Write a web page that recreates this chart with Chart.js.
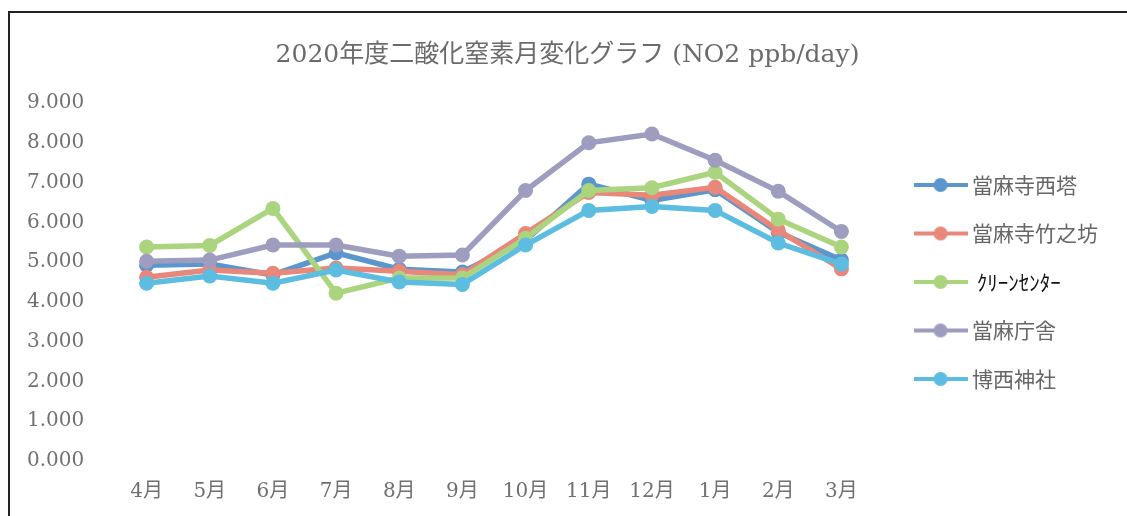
<!DOCTYPE html>
<html>
<head>
<meta charset="utf-8">
<script src="https://cdn.jsdelivr.net/npm/chart.js"></script>
<style>
  html, body { margin: 0; padding: 0; background: #fff; overflow: hidden; }
  #wrap { position: relative; width: 1127px; height: 516px; }
  #frame { position: absolute; left: 8px; top: 11px; width: 2000px; height: 1000px;
           border-left: 2px solid #222; border-top: 2px solid #222; pointer-events: none; }
</style>
</head>
<body>
<div id="wrap">
  <canvas id="lineChart"></canvas>
  <div id="frame"></div>
</div>
<script>
// months (fiscal year 2020)
const months = ['4月', '5月', '6月', '7月', '8月', '9月', '10月', '11月', '12月', '1月', '2月', '3月']
const seriesNames = ['當麻寺西塔', '當麻寺竹之坊', ' ｸﾘｰﾝｾﾝﾀｰ', '當麻庁舎', '博西神社']
const seriesColors = ['#5b97cc', '#e8877a', '#abd47e', '#9e9cbf', '#5cbde0']

// NO2 ppb/day
const saitou = [4.92, 4.95, 4.68, 5.23, 4.82, 4.75, 5.55, 6.96, 6.55, 6.82, 5.75, 5.05]
const takenobou = [4.62, 4.80, 4.72, 4.85, 4.77, 4.68, 5.72, 6.75, 6.68, 6.88, 5.80, 4.83]
const cleanCenter = [5.38, 5.42, 6.35, 4.22, 4.60, 4.60, 5.60, 6.80, 6.87, 7.26, 6.08, 5.38]
const choushya = [5.02, 5.05, 5.43, 5.43, 5.15, 5.18, 6.80, 8.00, 8.22, 7.56, 6.78, 5.77]
const hakusai = [4.47, 4.65, 4.47, 4.80, 4.50, 4.44, 5.43, 6.30, 6.40, 6.30, 5.48, 4.95]

const allSeries = [saitou, takenobou, cleanCenter, choushya, hakusai]

// small line + dot icon for the legend
function makeIcon(color) {
  const c = document.createElement('canvas')
  c.width = 54
  c.height = 16
  const g = c.getContext('2d')
  g.strokeStyle = color
  g.lineWidth = 4
  g.beginPath()
  g.moveTo(0, 8)
  g.lineTo(54, 8)
  g.stroke()
  g.fillStyle = color
  g.beginPath()
  g.arc(27, 8, 7, 0, Math.PI * 2)
  g.fill()
  return c
}
const icons = seriesColors.map(makeIcon)

const datasets = allSeries.map((values, i) => ({
  label: seriesNames[i],
  data: values,
  borderColor: seriesColors[i],
  backgroundColor: seriesColors[i],
  pointBackgroundColor: seriesColors[i],
  pointBorderColor: seriesColors[i],
  borderWidth: 5.5,
  pointRadius: 7.5,
  pointBorderWidth: 0,
  tension: 0,
  order: allSeries.length - i
}))

const serif = "'DejaVu Serif', 'Noto Sans CJK JP'"

var ctx = document.getElementById('lineChart').getContext('2d')
var myLineChart = new Chart(ctx, {
  type: 'line',
  data: { labels: months, datasets: datasets },
  options: {
    responsive: true,
    maintainAspectRatio: false,
    animation: false,
    layout: { padding: { left: 27, right: 19, top: 0, bottom: 13 } },
    plugins: {
      title: {
        display: true,
        text: '2020年度二酸化窒素月変化グラフ (NO2 ppb/day)',
        color: '#6b6b6b',
        font: { family: serif, size: 25, weight: 'normal' },
        padding: { top: 40, bottom: 33 }
      },
      legend: {
        position: 'right',
        fullSize: false,
        maxWidth: 240,
        labels: {
          usePointStyle: true,
          pointStyleWidth: 42,
          padding: 27.5,
          color: '#666',
          font: { family: "'Noto Sans CJK JP'", size: 21 },
          generateLabels: chart => chart.data.datasets.map((ds, i) => ({
            text: ds.label,
            fillStyle: ds.borderColor,
            strokeStyle: ds.borderColor,
            lineWidth: 0,
            pointStyle: icons[i],
            fontColor: i === 2 ? '#111' : '#666',
            hidden: !chart.isDatasetVisible(i),
            datasetIndex: i
          }))
        }
      },
      tooltip: { enabled: false }
    },
    scales: {
      x: {
        offset: true,
        grid: { display: false, drawTicks: false },
        border: { display: false },
        ticks: {
          color: '#707070',
          font: { family: serif, size: 20 },
          padding: 19,
          maxRotation: 0,
          autoSkip: false
        },
        afterFit: s => { s.height = 42 }
      },
      y: {
        min: 0,
        max: 9,
        grid: { display: false, drawTicks: false },
        border: { display: false },
        ticks: {
          stepSize: 1,
          color: '#707070',
          font: { family: serif, size: 20 },
          crossAlign: 'far',
          callback: v => v.toFixed(3)
        },
        afterFit: s => { s.width = 88 }
      },
      y2: {
        position: 'right',
        grid: { display: false, drawTicks: false },
        border: { display: false },
        ticks: { display: false },
        afterFit: s => { s.width = 19 }
      }
    }
  }
})
</script>
</body>
</html>
